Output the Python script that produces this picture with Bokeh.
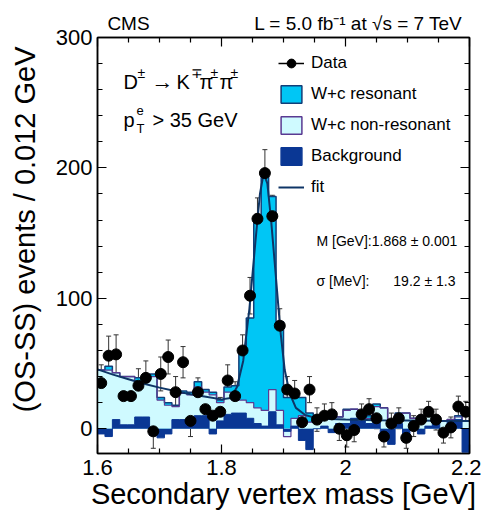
import numpy as np
from bokeh.plotting import figure
from bokeh.models import (ColumnDataSource, Whisker, TeeHead, Label, Legend, LegendItem,
                          LinearAxis, FixedTicker, SingleIntervalTicker, CustomLabelingPolicy)
from bokeh.embed import file_html
from bokeh.resources import INLINE

# ---------------- data ----------------
bin_low = 1.6
bin_width = 0.012
n_bins = 50

data_counts = [35, 56, 57, 25, 25, 33, 39, -2, 42, 55,
               28, 51, 6, 28, 15, 10, 13, 37, 25, 60,
               102, 161, 196, 163, 79, 30, 27, 5, 30, 7,
               10, 11, 0, -5, -1, 11, 15, 8, -6, 4,
               8, -7, 2, 7, 13, 7, -3, 1, 17, 13]
data_errors = [14, 15, 15, 13, 13, 13, 13, 13, 13, 13,
               12, 12, 12, 11, 11, 11, 11, 12, 11, 12,
               14, 16, 18, 16, 13, 10, 10, 10, 10, 9,
               9, 9, 9, 9, 9, 8, 8, 8, 8, 8,
               8, 8, 8, 8, 8, 8, 8, 8, 8, 8]
background = [-4, -6, 7, 3, 3, 9, 9, -5, -7, -4,
              7, 7, 6, 10, 10, -4, 6, 11, 12, 12,
              8, 4, 2, 13, 3, -2, 2, -9, -16, 0,
              2, -3, 4, 4, 8, 6, 4, 7, -4, -12,
              4, -10, 6, -4, 2, 7, -3, 6, 7, -18]
nonresonant = [49, 51, 36, 37, 37, 27, 27, 45, 29, 22,
               10, 20, 20, 22, 18, 30, 14, 17, 10, 10,
               12, 12, 12, 17, 11, -4, 6, 19, 21, 6,
               6, 11, 5, 10, 7, 8, 4, 10, 20, 18,
               7, 22, 2, 10, 8, 1, 9, 1, 2, 24]
resonant = [0, 3, 0, 0, 0, 3, 3, 2, 2, 2,
            1, 2, 2, 4, 2, 2, 2, 4, 11, 38,
            65, 145, 180, 148, 68, 30, 16, 14, 7, 2,
            0, 0, 0, 1, 0, 0, 2, 2, 0, 0,
            1, 0, 0, 1, 1, 0, 0, 0, 1, 0]
fit_mass = [1.600, 1.625, 1.650, 1.675, 1.700, 1.725, 1.750, 1.775, 1.800, 1.815,
            1.825, 1.835, 1.845, 1.855, 1.862, 1.868, 1.874, 1.880, 1.888, 1.895,
            1.902, 1.910, 1.920, 1.935, 1.950, 1.975, 2.000, 2.050, 2.100, 2.150, 2.200]
fit_counts = [45.5, 41.5, 38, 34.5, 31.5, 29, 26.5, 24.5, 22.5, 23.5,
              32, 52, 92, 145, 180, 196, 188, 160, 115, 75,
              45, 27, 16, 10.5, 8.5, 7.5, 7, 6.5, 6.3, 6.1, 6]
x_ticks = [1.6, 1.8, 2.0, 2.2]
x_minor_ticks = [1.65, 1.7, 1.75, 1.85, 1.9, 1.95, 2.05, 2.1, 2.15]
x_tick_labels = {1.6: "1.6", 1.8: "1.8", 2.0: "2", 2.2: "2.2"}
header_texts = ["CMS", "L = 5.0 fb\u207b\u00b9 at \u221as = 7 TeV"]

# ---------------- colours / layout ----------------
RES = "#00C6F5"
NONRES = "#CFFAFF"
BKG = "#0A3794"
RES_LINE = "#123E78"
NONRES_LINE = "#5A3A92"
FIT = "#0E3566"
FONT = "Liberation Sans"
FRAME_L, FRAME_R = 97, 469

# ---------------- derived ----------------
edges = bin_low + bin_width * np.arange(n_bins + 1)
centers = 0.5 * (edges[:-1] + edges[1:])
lvl_b = np.array(background, float)
lvl_bn = lvl_b + np.array(nonresonant, float)
lvl_t = lvl_bn + np.array(resonant, float)


def ext(a):
    return np.append(a, a[-1])


def xd(px):
    return 1.6 + (px - FRAME_L) * 0.6 / (FRAME_R - FRAME_L)


def yd(py):
    return -19 + (453 - py) * 319 / 416


p = figure(width=481, height=517, x_range=(1.6, 2.2), y_range=(-19, 300),
           output_backend="svg", toolbar_location=None,
           min_border_left=FRAME_L, min_border_right=481 - FRAME_R,
           min_border_top=37, min_border_bottom=64)
p.background_fill_color = "white"
p.border_fill_color = "white"
p.outline_line_color = "black"
p.outline_line_width = 1.5
p.grid.visible = False

# stacked histograms (overlay, each from zero)
zeros = np.zeros(n_bins + 1)
p.varea_step(x=edges, y1=zeros, y2=ext(lvl_t), step_mode="after", fill_color=RES)
p.varea_step(x=edges, y1=zeros, y2=ext(lvl_bn), step_mode="after", fill_color=NONRES)
p.varea_step(x=edges, y1=zeros, y2=ext(lvl_b), step_mode="after", fill_color=BKG)
p.step(x=edges, y=ext(lvl_t), mode="after", line_color=RES_LINE, line_width=1.5)
p.step(x=edges, y=ext(lvl_bn), mode="after", line_color=NONRES_LINE, line_width=1.2)
p.step(x=edges, y=ext(lvl_b), mode="after", line_color=BKG, line_width=1.0)

# fit
fit_r = p.line(fit_mass, fit_counts, line_color=FIT, line_width=2)

# data with error bars
dsrc = ColumnDataSource(dict(x=centers, y=data_counts,
                             lo=np.array(data_counts) - np.array(data_errors),
                             hi=np.array(data_counts) + np.array(data_errors)))
p.add_layout(Whisker(source=dsrc, base="x", upper="hi", lower="lo", line_color="#333333",
                     line_width=1,
                     upper_head=TeeHead(size=5, line_color="#333333", line_width=1),
                     lower_head=TeeHead(size=5, line_color="#333333", line_width=1)))
data_r = p.scatter("x", "y", source=dsrc, size=11, color="black")

# legend-only proxies (NaN geometry, never drawn in the frame)
nan = [np.nan]
leg_line = p.line(nan, nan, line_color="black", line_width=1.5)
leg_res = p.quad(left=nan, right=nan, top=nan, bottom=nan, fill_color=RES, line_color=RES_LINE, line_width=1.5)
leg_non = p.quad(left=nan, right=nan, top=nan, bottom=nan, fill_color=NONRES, line_color=NONRES_LINE, line_width=1.5)
leg_bkg = p.quad(left=nan, right=nan, top=nan, bottom=nan, fill_color=BKG, line_color=BKG, line_width=1.5)
legend = Legend(items=[LegendItem(label="Data", renderers=[leg_line, data_r]),
                       LegendItem(label="W+c resonant", renderers=[leg_res]),
                       LegendItem(label="W+c non-resonant", renderers=[leg_non]),
                       LegendItem(label="Background", renderers=[leg_bkg]),
                       LegendItem(label="fit", renderers=[fit_r])],
                location=(181, 255), padding=0, margin=0, spacing=9,
                glyph_width=26, glyph_height=22, label_height=22, label_standoff=7,
                label_text_font=FONT, label_text_font_size="17px", label_text_color="black",
                border_line_alpha=0, background_fill_alpha=0)
p.add_layout(legend, "center")

# axes
for ax in (p.xaxis[0], p.yaxis[0]):
    ax.major_tick_in = 9
    ax.major_tick_out = 0
    ax.minor_tick_in = 5
    ax.minor_tick_out = 0
    ax.axis_line_width = 1.5
    ax.major_tick_line_width = 1.2
    ax.minor_tick_line_width = 1.2
    ax.major_label_text_font = FONT
    ax.major_label_text_font_size = "22px"
    ax.major_label_text_color = "black"
    ax.axis_label_text_font = FONT
    ax.axis_label_text_font_size = "29px"
    ax.axis_label_text_font_style = "normal"
    ax.axis_label_text_color = "black"
p.xaxis[0].ticker = FixedTicker(ticks=x_ticks, minor_ticks=x_minor_ticks)
p.xaxis[0].major_label_overrides = x_tick_labels
p.xaxis[0].major_label_standoff = 6
p.xaxis[0].axis_label = "Secondary vertex mass [GeV]"
p.xaxis[0].axis_label_standoff = 0
p.yaxis[0].ticker = SingleIntervalTicker(interval=100, num_minor_ticks=5)
p.yaxis[0].major_label_standoff = 5
# ROOT puts the axis title at the top end of the axis: pad its start so it sits higher
p.yaxis[0].axis_label = "\u00a0\u00a0\u00a0\u00a0(OS-SS) events / 0.012 GeV"
p.yaxis[0].axis_label_standoff = 12

top_ax = LinearAxis(ticker=FixedTicker(ticks=x_ticks, minor_ticks=x_minor_ticks),
                    major_label_policy=CustomLabelingPolicy(code="return []"),
                    major_label_text_font_size="1px", major_label_standoff=0,
                    major_tick_in=9, major_tick_out=0, minor_tick_in=5, minor_tick_out=0,
                    axis_line_width=1.5, major_tick_line_width=1.2, minor_tick_line_width=1.2)
right_ax = LinearAxis(ticker=SingleIntervalTicker(interval=100, num_minor_ticks=5),
                      major_label_policy=CustomLabelingPolicy(code="return []"),
                      major_label_text_font_size="1px", major_label_standoff=0,
                      major_tick_in=9, major_tick_out=0, minor_tick_in=5, minor_tick_out=0,
                      axis_line_width=1.5, major_tick_line_width=1.2, minor_tick_line_width=1.2)
p.add_layout(top_ax, "above")
p.add_layout(right_ax, "right")

# header line above the frame, carried by a tick-less axis in the top border
cms_center = xd(107 + 21)
lumi_center = xd((253 + 463) / 2)
head_ax = LinearAxis(ticker=FixedTicker(ticks=[cms_center, lumi_center], minor_ticks=[]),
                     major_label_overrides={cms_center: header_texts[0], lumi_center: header_texts[1]},
                     major_label_text_font=FONT, major_label_text_font_size="19px",
                     major_label_text_color="black", major_label_standoff=0,
                     major_tick_in=0, major_tick_out=0, minor_tick_in=0, minor_tick_out=0,
                     axis_line_color=None, major_tick_line_color=None, minor_tick_line_color=None)
p.add_layout(head_ax, "above")


def lab(text, px, py, size, align="left"):
    p.add_layout(Label(x=xd(px), y=yd(py), text=text, text_font=FONT, text_font_size=f"{size}px",
                       text_align=align, text_baseline="middle", text_color="black"))


# decay channel
lab("D", 123, 81, 20)
lab("\u00b1", 137, 72, 14)
lab("\u2192", 151, 81, 22)
lab("K", 176, 81, 20)
lab("\u2213", 190, 72, 14)
lab("\u03c0", 199, 81, 20)
lab("\u00b1", 210, 72, 14)
lab("\u03c0", 219, 81, 20)
lab("\u00b1", 230, 72, 14)

lab("p", 123, 119, 20)
lab("e", 136, 110, 13)
lab("T", 136, 128, 13)
lab("> 35 GeV", 152, 119, 20)

# fit results
lab("M [GeV]:1.868 \u00b1 0.001", 316, 240, 14)
lab("\u03c3 [MeV]:", 316, 280, 14)
lab("19.2 \u00b1 1.3", 455, 280, 14, align="right")

open("out.html", "w").write(file_html(p, INLINE))
